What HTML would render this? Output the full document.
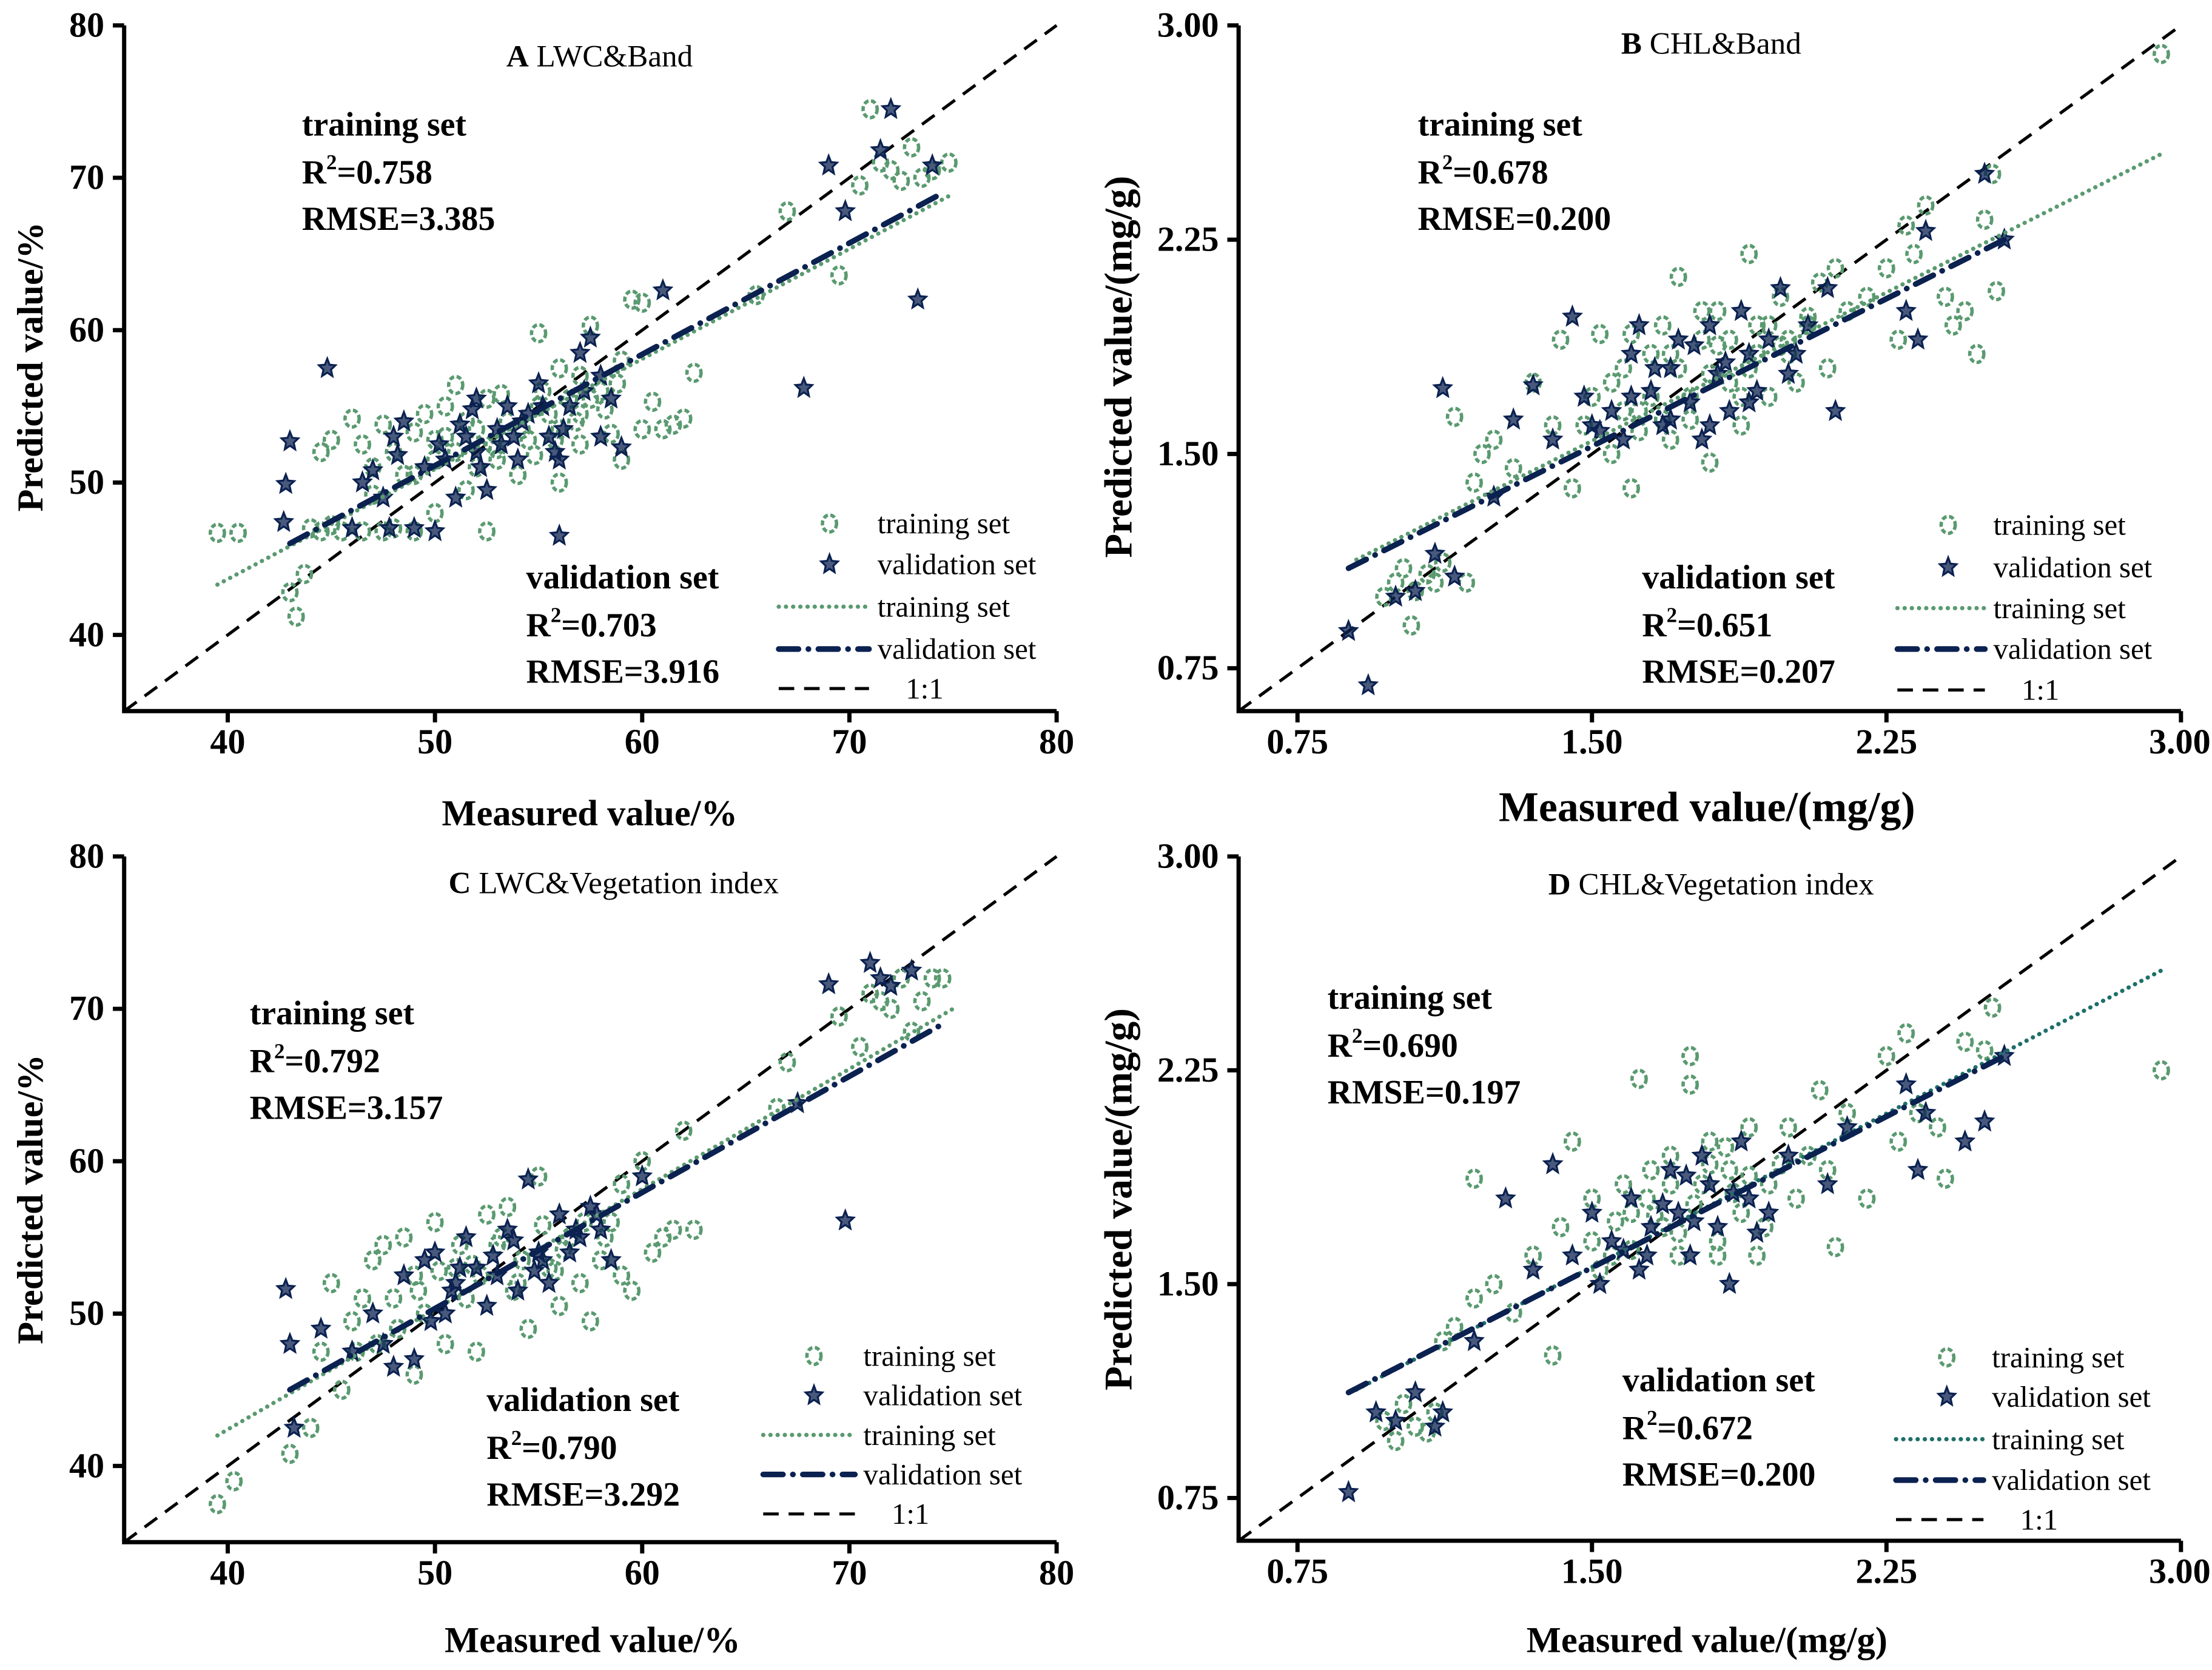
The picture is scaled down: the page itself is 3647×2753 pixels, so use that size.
<!DOCTYPE html>
<html><head><meta charset="utf-8"><style>
html,body{margin:0;padding:0;background:#fff}
svg{display:block}
text{font-family:"Liberation Serif",serif;fill:#000}
</style></head><body>
<svg id="fig" width="3647" height="2753" viewBox="0 0 1568 1183.6" preserveAspectRatio="none" xmlns="http://www.w3.org/2000/svg"></svg>
<script>
// ---- Panel A data (LWC & Band) ----
const aTrainX=[39.5,40.5,43.3,43,43.7,44,44.5,45,46,46.5,47,47.5,48,48,49,49,49.5,50,50,50.5,51,51,51.5,52,52.5,52.5,53,53.5,54,54.5,55,55.5,56,56,56.5,57,57,57.5,58,58.5,59,59,59.5,60,60,60.5,61,61.5,62,62.5,65.5,67,69.5,70.5,71,71.5,72,72.5,73,73.5,74,74.8,44.5,45.5,46.5,47.5,48.5,50.5,51.5,52.8,53.2,54.2,54.8,55.2,55.8,56.8,57.5,58.2,52,53,50,55,56,49,47,45,57,58.8];
const aTrainY=[46.7,46.7,41.2,42.8,44,47,52,52.8,54.2,52.5,51,53.8,47,52,46.8,53.3,54.5,48,51.5,55,56.4,52,49.5,53.5,46.8,55.5,51.5,54,50.5,52.8,59.8,54.5,50,53.5,55.5,57,52.5,60.3,56,53.2,51.5,58,62,61.8,53.5,55.3,53.5,53.8,54.2,57.2,62.3,67.8,63.6,69.5,74.5,71,70.5,69.8,72,70,70.5,71,46.8,46.8,46.8,46.8,50.5,53,54,52.5,55.8,53.5,51.8,56,52.8,54,55.5,54.8,51,52.2,52.8,55,57.5,50.5,49.2,47.2,54.5,56.5];
const aValX=[42.8,43,44.8,42.7,46,46.5,47,47.5,48,48.5,49,50,50.5,51,51.5,52,52,52.5,53,53.5,54,54.5,55,55.5,56,56,56.5,57,57.5,58,58,58.5,59,61,67.8,69,69.8,71.5,72,73.3,74,49.5,50.2,51.2,52.2,53.2,54.2,55.2,56.2,57.2,51.8,53.8,55.8,48.2,47.8];
const aValY=[49.9,52.7,57.5,47.4,47,50,50.8,49,53,54,47,46.8,51.5,49,53,52,55.5,49.5,53.5,55,51.5,54.5,56.5,53,51.5,46.5,55,58.5,59.5,57,53,55.5,52.3,62.6,56.2,70.8,67.8,71.8,74.5,62,70.8,51,52.5,53.8,51,52.5,54,55,53.5,56,54.8,53,52,51.8,47];
const aTrainLine=[[39.5,43.3],[74.8,68.8]];
const aValLine=[[43,46],[74.5,69]];
const aStats=["training set","0.758","RMSE=3.385","validation set","0.703","RMSE=3.916"];
// ---- Panel B data (CHL & Band) ----
const bTrainX=[0.97,1.0,1.02,1.04,1.05,1.08,1.1,1.12,1.18,1.2,1.22,1.25,1.15,1.3,1.35,1.4,1.45,1.5,1.52,1.55,1.58,1.6,1.62,1.65,1.68,1.7,1.72,1.75,1.78,1.8,1.82,1.85,1.88,1.9,1.92,1.95,1.98,2.0,2.02,2.05,2.08,2.1,2.12,2.15,2.2,2.25,2.28,2.3,2.32,2.35,2.4,2.42,2.45,2.48,2.5,2.52,2.53,2.95,1.42,1.6,1.75,1.55,1.65,1.7,1.8,1.85,1.9,1.95,2.0,1.62,1.72,1.78,1.88,1.98,2.05,1.48,1.58,1.68,1.82,1.92];
const bTrainY=[1.0,1.05,1.1,0.9,1.02,1.08,1.05,1.12,1.05,1.4,1.5,1.55,1.63,1.45,1.75,1.6,1.38,1.7,1.92,1.5,1.8,1.38,1.65,1.85,1.95,1.55,2.12,1.7,1.9,1.47,2.0,1.75,1.6,2.2,1.85,1.7,2.05,1.9,1.75,1.95,2.1,1.8,2.15,2.0,2.05,2.15,1.9,2.3,2.2,2.37,2.05,1.95,2.0,1.85,2.32,2.48,2.07,2.9,1.9,1.92,1.62,1.75,1.7,1.85,1.78,1.9,1.8,1.95,1.85,1.58,1.8,2.0,1.7,1.88,1.98,1.6,1.65,1.62,1.88,1.95];
const bValX=[0.88,0.93,1.0,1.05,1.1,1.12,1.15,1.25,1.3,1.35,1.4,1.45,1.48,1.5,1.55,1.58,1.6,1.62,1.65,1.68,1.7,1.72,1.75,1.78,1.8,1.82,1.85,1.88,1.9,1.92,1.95,1.98,2.0,2.05,2.1,2.12,2.3,2.33,2.35,2.5,2.55,1.52,1.6,1.7,1.76,1.84,1.9,1.66,1.8,2.02];
const bValY=[0.88,0.69,1.0,1.02,1.15,1.73,1.07,1.35,1.62,1.74,1.55,1.98,1.7,1.6,1.65,1.55,1.85,1.95,1.72,1.6,1.8,1.9,1.68,1.55,1.95,1.78,1.65,2.0,1.85,1.72,1.9,2.08,1.78,1.95,2.08,1.65,2.0,1.9,2.28,2.48,2.25,1.58,1.7,1.62,1.88,1.82,1.68,1.8,1.6,1.85];
const bTrainLine=[[0.9,1.13],[2.95,2.55]];
const bValLine=[[0.88,1.1],[2.55,2.25]];
const bStats=["training set","0.678","RMSE=0.200","validation set","0.651","RMSE=0.207"];
// ---- Panel C data (LWC & Vegetation index) ----
const cTrainX=[39.5,40.3,43,44,44.5,45,45.5,46,46.5,47,47.5,48,48.5,49,49,49.5,50,50.5,51,51.5,52,52.5,53,53.5,54,54.5,55,55.5,56,56.5,57,57.5,58,58.5,59,59,59.5,60,60.5,61,61.5,62,62.5,67,69.5,70.5,71,71.5,72,72.5,73,73.5,74,74.5,66.5,48.2,49.2,50.2,51.2,52.2,53.2,54.2,55.2,56.2,57.2,51.8,53.8,55.8,47.2,46.2,58.2];
const cTrainY=[37.5,39,40.8,42.5,47.5,52,45,49.5,51,53.5,54.5,51,55,46,52.5,50,56,48,53,51,47.5,56.5,54.5,57,52,49,59,53,50.5,55,52,49.5,53.5,56,52.5,58.5,51.5,60,54,55,55.5,62,55.5,66.5,69.5,67.5,71,70.5,70,72,68.5,70.5,72,72,63.5,49,51.5,52.8,54.5,52.5,55,53.5,55.8,54.2,56,53.2,51.5,52.8,48,47.5,55];
const cValX=[42.8,43,43.2,44.5,46,47,47.5,48,48.5,49,49.5,50,50.5,51,51.5,52,52.5,53,53.5,54,54.5,55,55.5,56,56.5,57,57.5,58,58.5,60,67.5,69,69.8,71,71.5,72,73,50.8,52.8,54.8,56.8,49.8,51.2,53.8,55.2,57.8];
const cValY=[51.6,48,42.5,49,47.5,50,48,46.5,52.5,47,53.5,54,50,52,55,53,50.5,52.5,55.5,51.5,58.8,54,52,56.5,54,55,57,55.5,53.5,59,63.8,71.6,56.1,73,72,71.5,72.5,51.5,53.8,52.8,55.5,49.5,53,54.8,53.5,56.5];
const cTrainLine=[[39.5,42],[75,70]];
const cValLine=[[43,45],[74.5,69]];
const cStats=["training set","0.792","RMSE=3.157","validation set","0.790","RMSE=3.292"];
// ---- Panel D data (CHL & Vegetation index) ----
const dTrainX=[0.97,1.0,1.02,1.05,1.08,1.1,1.12,1.15,1.2,1.2,1.25,1.3,1.35,1.4,1.42,1.45,1.5,1.52,1.55,1.58,1.6,1.62,1.65,1.68,1.7,1.72,1.75,1.75,1.78,1.8,1.82,1.85,1.88,1.9,1.92,1.95,2.0,2.02,2.05,2.08,2.1,2.12,2.15,2.2,2.25,2.28,2.3,2.33,2.38,2.4,2.45,2.5,2.52,2.95,1.56,1.64,1.72,1.8,1.86,1.94,1.6,1.7,1.84,1.76,1.9,1.98,1.5,1.66,1.82];
const dTrainY=[1.02,0.95,1.08,1.0,0.98,1.05,1.3,1.35,1.45,1.87,1.5,1.4,1.6,1.25,1.7,2.0,1.8,1.55,1.6,1.85,1.75,2.22,1.9,1.7,1.95,1.6,2.3,2.2,1.85,2.0,1.65,1.9,1.75,2.05,1.6,1.85,2.05,1.8,1.95,2.18,1.9,1.63,2.1,1.8,2.3,2.0,2.38,2.1,2.05,1.87,2.35,2.32,2.47,2.25,1.72,1.8,1.68,1.92,1.82,1.7,1.62,1.85,1.98,1.78,1.88,1.92,1.65,1.74,1.6];
const dValX=[0.88,0.95,1.0,1.05,1.1,1.12,1.2,1.28,1.35,1.4,1.45,1.5,1.52,1.55,1.6,1.62,1.65,1.7,1.72,1.75,1.78,1.8,1.82,1.85,1.88,1.9,1.95,2.0,2.1,2.15,2.3,2.33,2.35,2.5,2.55,2.45,1.58,1.68,1.76,1.86,1.92,1.64,1.74];
const dValY=[0.77,1.05,1.02,1.12,1.0,1.05,1.3,1.8,1.55,1.92,1.6,1.75,1.5,1.65,1.8,1.55,1.7,1.9,1.75,1.6,1.95,1.85,1.7,1.5,2.0,1.8,1.75,1.95,1.85,2.05,2.2,1.9,2.1,2.07,2.3,2.0,1.62,1.78,1.72,1.82,1.68,1.6,1.88];
const dTrainLine=[[0.9,1.13],[2.95,2.6]];
const dValLine=[[0.88,1.12],[2.55,2.3]];
const dStats=["training set","0.690","RMSE=0.197","validation set","0.672","RMSE=0.200"];
// ---- Tick labels ----
const lwcTicks=[40,50,60,70,80];
const chlTicks=[0.75,1.50,2.25,3.00];

const NS="http://www.w3.org/2000/svg";
const svg=document.getElementById('fig');
function mk(tag,attrs,parent){const e=document.createElementNS(NS,tag);for(const k in attrs)e.setAttribute(k,attrs[k]);(parent||svg).appendChild(e);return e;}
function txt(s,attrs,parent){const e=mk('text',attrs,parent);e.textContent=s;return e;}

const GREEN="#5a9a70", NAVY="#0b2150";

function starPath(cx,cy){const r=6.2,ri=2.8;let d="";for(let i=0;i<10;i++){const a=-Math.PI/2+i*Math.PI/5;const rr=i%2?ri:r;d+=(i?"L":"M")+(cx+rr*Math.cos(a)).toFixed(1)+","+(cy+rr*Math.sin(a)*1.1).toFixed(1);}return d+"Z";}

function panel(p){
  const g=mk('g',{});
  
  
  const sx=v=>p.x0+(v-p.xmin)/(p.xmax-p.xmin)*(p.x1-p.x0);
  const sy=v=>p.y1-(v-p.ymin)/(p.ymax-p.ymin)*(p.y1-p.y0);
  const lo=Math.max(p.xmin,p.ymin), hi=Math.min(p.xmax,p.ymax);
  const ref=mk('line',{x1:sx(lo),y1:sy(lo),x2:sx(hi),y2:sy(hi),stroke:"#000","stroke-width":2.2,"stroke-dasharray":"11,7"},g);
  
  
  p.tx.forEach((v,i)=>{
    const c=mk('ellipse',{cx:sx(v),cy:sy(p.ty[i]),rx:5,ry:6,fill:"none",stroke:GREEN,"stroke-width":2.4,"stroke-dasharray":"3.5,1.8"},g);
    
    
  });
  p.vx.forEach((v,i)=>{
    const s=mk('path',{d:starPath(sx(v),sy(p.vy[i])),fill:NAVY,"fill-opacity":0.75,stroke:NAVY,"stroke-width":1.4},g);
    
    
  });
  const tl=mk('line',{x1:sx(p.tl[0][0]),y1:sy(p.tl[0][1]),x2:sx(p.tl[1][0]),y2:sy(p.tl[1][1]),stroke:p.tcol||GREEN,"stroke-width":3,"stroke-dasharray":"0.1,5","stroke-linecap":"round"},g);
  
  
  const vl=mk('line',{x1:sx(p.vl[0][0]),y1:sy(p.vl[0][1]),x2:sx(p.vl[1][0]),y2:sy(p.vl[1][1]),stroke:NAVY,"stroke-width":4,"stroke-dasharray":"14,7,0.1,7","stroke-linecap":"round"},g);
  
  
  const ax=mk('path',{d:`M${p.x0},${p.y0}V${p.y1}H${p.x1}`,fill:"none",stroke:"#000","stroke-width":3},g);
  
  
  p.ticks.forEach((t,i)=>{
    mk('line',{x1:sx(t),y1:p.y1,x2:sx(t),y2:p.y1+8,stroke:"#000","stroke-width":3},g);
    const last=(i==p.ticks.length-1)&&p.clip;
    const xl=txt(p.fmt(t),{x:last?1567:sx(t),y:p.y1+30,"text-anchor":last?"end":"middle","font-size":25,"font-weight":"bold"},g);
    
    
    mk('line',{x1:p.x0-8,y1:sy(t),x2:p.x0,y2:sy(t),stroke:"#000","stroke-width":3},g);
    const yl=txt(p.fmt(t),{x:p.x0-14,y:sy(t)+8,"text-anchor":"end","font-size":25,"font-weight":"bold"},g);
    
    
  });
  const t=txt('',{x:p.title[1],y:p.title[2],"text-anchor":"middle","font-size":22},g);
  
  
  const tb=mk('tspan',{"font-weight":"bold"},t);tb.textContent=p.title[0][0];
  const tr=mk('tspan',{},t);tr.textContent=" "+p.title[0].slice(2);
  const xt=txt(p.xlab[0],{x:p.xlab[1],y:p.xlab[2],"text-anchor":"middle","font-size":p.xlab[3],"font-weight":"bold"},g);
  
  
  const yt=txt(p.ylab[0],{x:0,y:0,"text-anchor":"middle","font-size":p.ylab[3],"font-weight":"bold",transform:`translate(${p.ylab[1]},${p.ylab[2]}) rotate(-90)`},g);
  
  
  function stat(x,y,lines,nm){
    const a=txt(lines[0],{x:x,y:y,"font-size":24,"font-weight":"bold"},g);
    
    
    const b=txt('',{x:x,y:y+34,"font-size":24,"font-weight":"bold"},g);
    
    
    const b1=mk('tspan',{},b);b1.textContent="R";
    const b2=mk('tspan',{"font-size":15,dy:-10},b);b2.textContent="2";
    const b3=mk('tspan',{dy:10},b);b3.textContent="="+lines[1];
    const c=txt(lines[2],{x:x,y:y+67,"font-size":24,"font-weight":"bold"},g);
    
    
  }
  stat(p.st[0],p.st[1],p.stats.slice(0,3),'training-stats');
  stat(p.sv[0],p.sv[1],p.stats.slice(3,6),'validation-stats');
  const L=p.leg, mx=L[0], tx=L[1], rows=L[2];
  const lg=mk('g',{},g);
  
  
  mk('ellipse',{cx:mx,cy:rows[0],rx:5,ry:6,fill:"none",stroke:GREEN,"stroke-width":2.4,"stroke-dasharray":"3.5,1.8"},lg);
  mk('path',{d:starPath(mx,rows[1]),fill:NAVY,"fill-opacity":0.75,stroke:NAVY,"stroke-width":1.4},lg);
  mk('line',{x1:mx-36,y1:rows[2],x2:tx-6,y2:rows[2],stroke:p.tcol||GREEN,"stroke-width":3,"stroke-dasharray":"0.1,5","stroke-linecap":"round"},lg);
  mk('line',{x1:mx-36,y1:rows[3],x2:tx-6,y2:rows[3],stroke:NAVY,"stroke-width":4,"stroke-dasharray":"14,7,0.1,7","stroke-linecap":"round"},lg);
  mk('line',{x1:mx-36,y1:rows[4],x2:tx-6,y2:rows[4],stroke:"#000","stroke-width":2.2,"stroke-dasharray":"11,7"},lg);
  const names=["training set","validation set","training set","validation set","1:1"];
  names.forEach((n,i)=>{
    const e=txt(n,{x:i==4?tx+20:tx,y:rows[i]+7,"font-size":21},lg);
    
    
  });
}

const fL=v=>String(v), fC=v=>v.toFixed(2);
panel({name:'panel-a',x0:88,x1:749,y0:18,y1:504,xmin:35,xmax:80,ymin:35,ymax:80,tx:aTrainX,ty:aTrainY,vx:aValX,vy:aValY,tl:aTrainLine,vl:aValLine,stats:aStats,ticks:lwcTicks,fmt:fL,
  title:["A LWC&Band",425,47],xlab:["Measured value/%",418,585,26],ylab:["Predicted value/%",30,260,26],st:[214,96],sv:[373,417],leg:[588,622,[371,400,430,460,488]]});
panel({name:'panel-b',x0:878,x1:1546,y0:18,y1:504,xmin:0.6,xmax:3.0,ymin:0.6,ymax:3.0,clip:true,tx:bTrainX,ty:bTrainY,vx:bValX,vy:bValY,tl:bTrainLine,vl:bValLine,stats:bStats,ticks:chlTicks,fmt:fC,
  title:["B CHL&Band",1213,38],xlab:["Measured value/(mg/g)",1210,582,30],ylab:["Predicted value/(mg/g)",802,260,28],st:[1005,96],sv:[1164,417],leg:[1381,1413,[372,402,431,460,489]]});
panel({name:'panel-c',x0:88,x1:749,y0:607,y1:1093,xmin:35,xmax:80,ymin:35,ymax:80,tx:cTrainX,ty:cTrainY,vx:cValX,vy:cValY,tl:cTrainLine,vl:cValLine,stats:cStats,ticks:lwcTicks,fmt:fL,
  title:["C LWC&Vegetation index",435,633],xlab:["Measured value/%",420,1171,26],ylab:["Predicted value/%",30,850,26],st:[177,726],sv:[345,1000],leg:[577,612,[961,989,1017,1045,1073]]});
panel({name:'panel-d',x0:878,x1:1546,y0:607,y1:1092,xmin:0.6,xmax:3.0,ymin:0.6,ymax:3.0,clip:true,tx:dTrainX,ty:dTrainY,vx:dValX,vy:dValY,tl:dTrainLine,vl:dValLine,stats:dStats,ticks:chlTicks,fmt:fC,tcol:"#1e6f6a",
  title:["D CHL&Vegetation index",1213,634],xlab:["Measured value/(mg/g)",1210,1171,26],ylab:["Predicted value/(mg/g)",802,850,28],st:[941,715],sv:[1150,986],leg:[1380,1412,[962,990,1020,1049,1077]]});
</script>
</body></html>
